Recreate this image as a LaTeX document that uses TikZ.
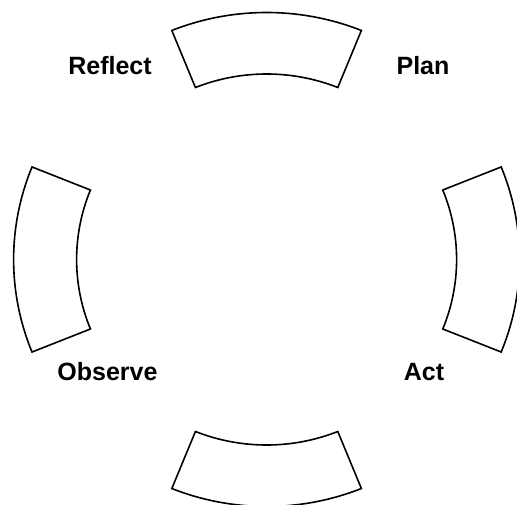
\documentclass[tikz,border=0pt]{standalone}
\usepackage{fontspec}
\setmainfont{Liberation Sans}
\begin{document}
\begin{tikzpicture}[x=0.75pt,y=0.75pt,
  seg/.style={draw=black,line width=1.2pt,line join=miter},
  lbl/.style={font=\fontsize{18.75}{22}\selectfont\bfseries,anchor=base,inner sep=0pt}]
\useasboundingbox (0,0) rectangle (517,504);
\clip (0,0) rectangle (517,504);
\coordinate (c) at (266.6,244.5);
\foreach \s/\e in {68/112,-22/22,248/292,158/202}{
  \draw[seg] ([shift={(c)}]\s:253 and 247)
    arc[start angle=\s,end angle=\e,x radius=253,y radius=247]
    -- ([shift={(c)}]\e:190 and 185.5)
    arc[start angle=\e,end angle=\s,x radius=190,y radius=185.5]
    -- cycle;
}
\node[lbl] (reflect) at (110,429) {Reflect};
\node[lbl] (plan) at (423,429) {Plan};
\node[lbl] (observe) at (107.5,124) {Observe};
\node[lbl] (act) at (424,124) {Act};
\end{tikzpicture}
\end{document}
